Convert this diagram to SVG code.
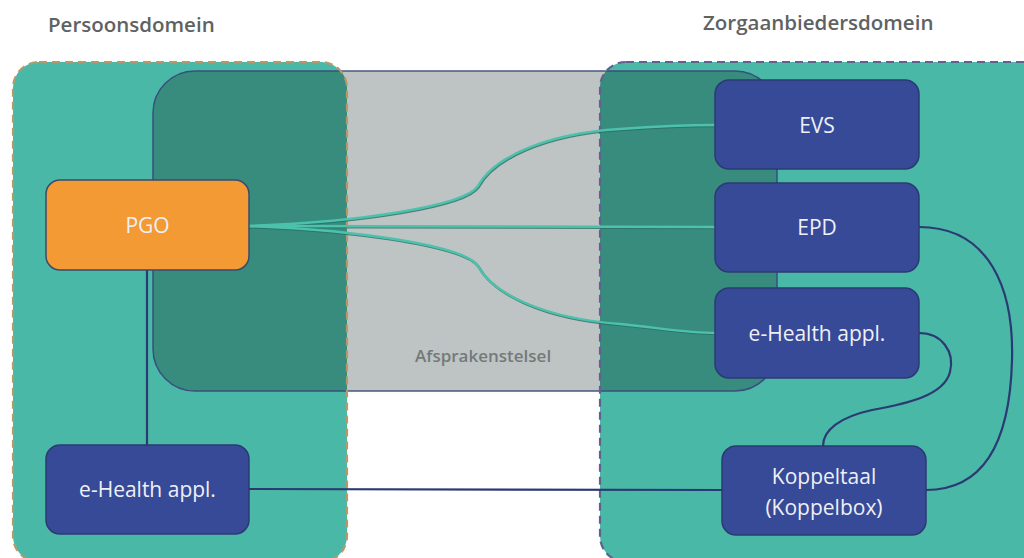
<svg xmlns="http://www.w3.org/2000/svg" width="1024" height="558" viewBox="0 0 1024 558">
<style>
.title{font-family:"Open Sans","Liberation Sans",sans-serif;font-weight:600;font-size:20.5px;fill:#5e6262}
.lbl{font-family:"Open Sans","Liberation Sans",sans-serif;font-size:21px;fill:#eef0f6;text-anchor:middle}
.navy{fill:#374a98;stroke:#2c3a72;stroke-width:1.5}
.navyline{fill:none;stroke:#2b3a72;stroke-width:2.2}
.tealunder{fill:none;stroke:#2a6e64;stroke-width:2.5;opacity:0.8}
.teal{fill:none;stroke:#4cc2ad;stroke-width:2.4}
</style>
<defs>
<clipPath id="domains">
<rect x="13" y="62" width="334" height="500" rx="26"/>
<rect x="600" y="62" width="450" height="500" rx="26"/>
</clipPath>
<path id="c1" d="M249,226 C360,222 465,206 478,186 C492,160 540,134 620,129 C660,126 690,125 715,125"/>
<path id="c2" d="M249,226 L715,227"/>
<path id="c3" d="M249,226 C360,230 465,246 478,266 C492,292 540,318 620,324 C660,328 690,333 715,333"/>
</defs>
<rect width="1024" height="558" fill="#ffffff"/>

<g id="afsprakenstelsel">
<rect x="153" y="71" width="624" height="320" rx="42" fill="#bec4c3" stroke="#4a5780" stroke-width="1.5"/>
</g>

<g id="persoonsdomein">
<rect x="13" y="62" width="334" height="500" rx="26" fill="#4ab8a7"/>
</g>
<g id="zorgaanbiedersdomein">
<rect x="600" y="62" width="450" height="500" rx="26" fill="#4ab8a7"/>
</g>

<g id="overlap">
<rect x="153" y="71" width="624" height="320" rx="42" fill="#378c7e" stroke="#3a4f7e" stroke-width="1.5" clip-path="url(#domains)"/>
</g>

<g id="borders">
<rect x="13" y="62" width="334" height="500" rx="26" fill="none" stroke="#b39a6c" stroke-width="2.2" stroke-dasharray="8 5"/>
<rect x="600" y="62" width="450" height="500" rx="26" fill="none" stroke="#5f6290" stroke-width="2.2" stroke-dasharray="8 5"/>
</g>

<text class="title" x="48" y="32">Persoonsdomein</text>
<text class="title" x="703" y="30">Zorgaanbiedersdomein</text>
<text x="415" y="362" font-family="'Open Sans','Liberation Sans',sans-serif" font-weight="600" font-size="17px" fill="#747a7a">Afsprakenstelsel</text>

<g id="connectors">
<line class="navyline" x1="147" y1="270" x2="147" y2="445"/>
<line class="navyline" x1="249" y1="489" x2="722" y2="490"/>
<path class="navyline" d="M919,227 C990,227 1014,290 1012,360 C1010,440 985,490 926,490"/>
<path class="navyline" d="M919,333 C942,333 955,352 950,372 C944,396 905,404 872,410 C840,417 823,430 823,446"/>

<g transform="translate(0.8,1)">
<use href="#c1" class="tealunder"/>
<use href="#c2" class="tealunder"/>
<use href="#c3" class="tealunder"/>
</g>
<use href="#c1" class="teal"/>
<use href="#c2" class="teal"/>
<use href="#c3" class="teal"/>
</g>

<g id="pgo">
<rect x="46" y="180" width="203" height="90" rx="14" fill="#f39a34" stroke="#3b4a6e" stroke-width="1.5"/>
<text class="lbl" x="147.5" y="233">PGO</text>
</g>
<g id="ehealth-persoon">
<rect class="navy" x="46" y="445" width="203" height="89" rx="14"/>
<text class="lbl" x="147.5" y="497">e-Health appl.</text>
</g>
<g id="evs">
<rect class="navy" x="715" y="80" width="204" height="89" rx="14"/>
<text class="lbl" x="817" y="133">EVS</text>
</g>
<g id="epd">
<rect class="navy" x="715" y="183" width="204" height="89" rx="14"/>
<text class="lbl" x="817" y="235">EPD</text>
</g>
<g id="ehealth-zorg">
<rect class="navy" x="715" y="288" width="204" height="90" rx="14"/>
<text class="lbl" x="817" y="341">e-Health appl.</text>
</g>
<g id="koppeltaal">
<rect class="navy" x="722" y="446" width="204" height="89" rx="14"/>
<text class="lbl" x="824" y="484">Koppeltaal</text>
<text class="lbl" x="824" y="515">(Koppelbox)</text>
</g>
</svg>
